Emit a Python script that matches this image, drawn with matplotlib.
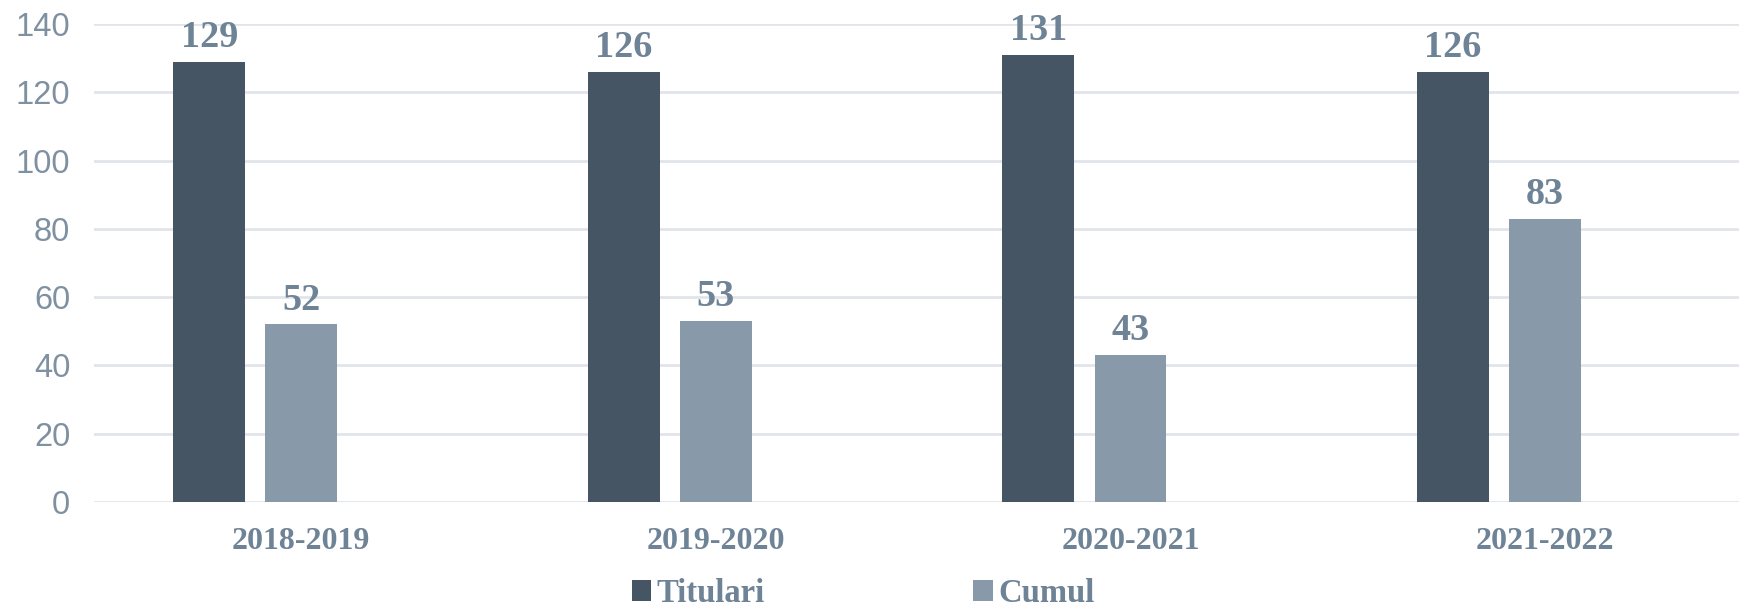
import matplotlib
matplotlib.use("Agg")
import matplotlib.pyplot as plt
from matplotlib.patches import Patch
import numpy as np

categories = ["2018-2019", "2019-2020", "2020-2021", "2021-2022"]
titulari = [129, 126, 131, 126]
cumul = [52, 53, 43, 83]
series_names = ["Titulari", "Cumul"]
yticks = [0, 20, 40, 60, 80, 100, 120, 140]

dark = "#465563"
light = "#889aa9"
tick_color = "#7f91a1"
label_color = "#6f8397"
grid_color = "#e1e5e9"

fig = plt.figure(figsize=(17.4, 6.11), dpi=100)
ax = fig.add_axes([0.054, 0.1784, 0.946, 0.7823])

x = np.arange(len(categories))
w = 0.1736
off = 0.222
b1 = ax.bar(x - off, titulari, width=w, color=dark, zorder=3)
b2 = ax.bar(x, cumul, width=w, color=light, zorder=3)

for bars, vals in ((b1, titulari), (b2, cumul)):
    for r, v in zip(bars, vals):
        ax.annotate(str(v), (r.get_x() + r.get_width() / 2, v),
                    xytext=(0, 5), textcoords="offset points",
                    ha="center", va="bottom", fontsize=27.5, fontweight="bold",
                    family="Liberation Serif", color=label_color,
                    annotation_clip=False)

ax.set_xlim(-0.5, 3.47)
ax.set_ylim(0, 140)
ax.set_yticks(yticks)
ax.set_yticklabels([str(t) for t in yticks], family="Liberation Sans",
                   fontsize=23.5, color=tick_color)
ax.set_xticks(x)
ax.set_xticklabels(categories, family="Liberation Serif", fontweight="bold",
                   fontsize=23, color=label_color)
ax.tick_params(axis="both", length=0)
ax.tick_params(axis="y", pad=17)
ax.tick_params(axis="x", pad=18)
ax.yaxis.grid(True, color=grid_color, linewidth=2, zorder=0)
ax.set_axisbelow(True)
for s in ax.spines.values():
    s.set_visible(False)

handles = [Patch(facecolor=dark, edgecolor="none"),
           Patch(facecolor=light, edgecolor="none")]
leg = fig.legend(handles, series_names, loc="lower center", bbox_to_anchor=(0.496, -0.034),
                 ncol=2, frameon=False, handlelength=0.6, handleheight=0.6,
                 handletextpad=0.15, columnspacing=6.4, borderpad=0.2,
                 prop={"family": "Liberation Serif", "weight": "bold", "size": 23.5})
for t in leg.get_texts():
    t.set_color(label_color)

fig.savefig("out.png", dpi=100)
